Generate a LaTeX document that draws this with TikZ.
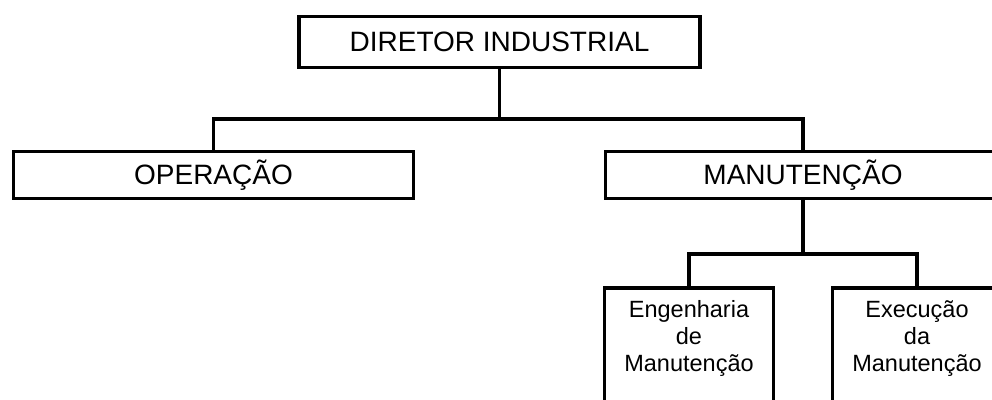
\documentclass[tikz,border=0pt]{standalone}
\usepackage{fontspec}
\setmainfont{Liberation Sans}
\usetikzlibrary{positioning}
\tikzset{
  orgbox/.style={draw=black,line width=1.9pt,inner sep=0pt,
    font=\fontsize{14}{16}\selectfont},
  subbox/.style={draw=black,line width=1.9pt,inner sep=0pt,
    minimum width=84.5pt,minimum height=80pt},
  subtxt/.style={inner sep=0pt,align=center,
    font=\fontsize{11.75}{13.5}\selectfont},
  conn/.style={draw=black,line width=1.9pt},
}
\begin{document}
\begin{tikzpicture}[x=0.5pt,y=-0.5pt]
\useasboundingbox (0,0) rectangle (992,400);
\clip (0,0) rectangle (992,400);

% top level
\node[orgbox,minimum width=200.5pt,minimum height=25.5pt] (dir) at (499.5,42)
  {DIRETOR INDUSTRIAL};

% second level
\node[orgbox,minimum width=200pt,minimum height=23.5pt] (op) at (213.5,175)
  {OPERAÇÃO};
\node[orgbox,minimum width=197.5pt,minimum height=23.5pt] (man) at (803,175)
  {MANUTENÇÃO};

% third level
\node[subbox,anchor=north] (eng) at (689,286.5) {};
\node[subtxt,below=7pt of eng.north] (engt) {Engenharia\\de\\Manutenção};
\node[subbox,anchor=north] (exe) at (917,286.5) {};
\node[subtxt,below=7pt of exe.north] (exet) {Execução\\da\\Manutenção};

% links
\draw[conn] (dir.south) -- ++(0,49.5) coordinate (busa);
\draw[conn] (op.north) |- (busa) -| (man.north);
\draw[conn] (man.south) -- ++(0,53.5) coordinate (busb);
\draw[conn] (eng.north) |- (busb) -| (exe.north);
\end{tikzpicture}
\end{document}
